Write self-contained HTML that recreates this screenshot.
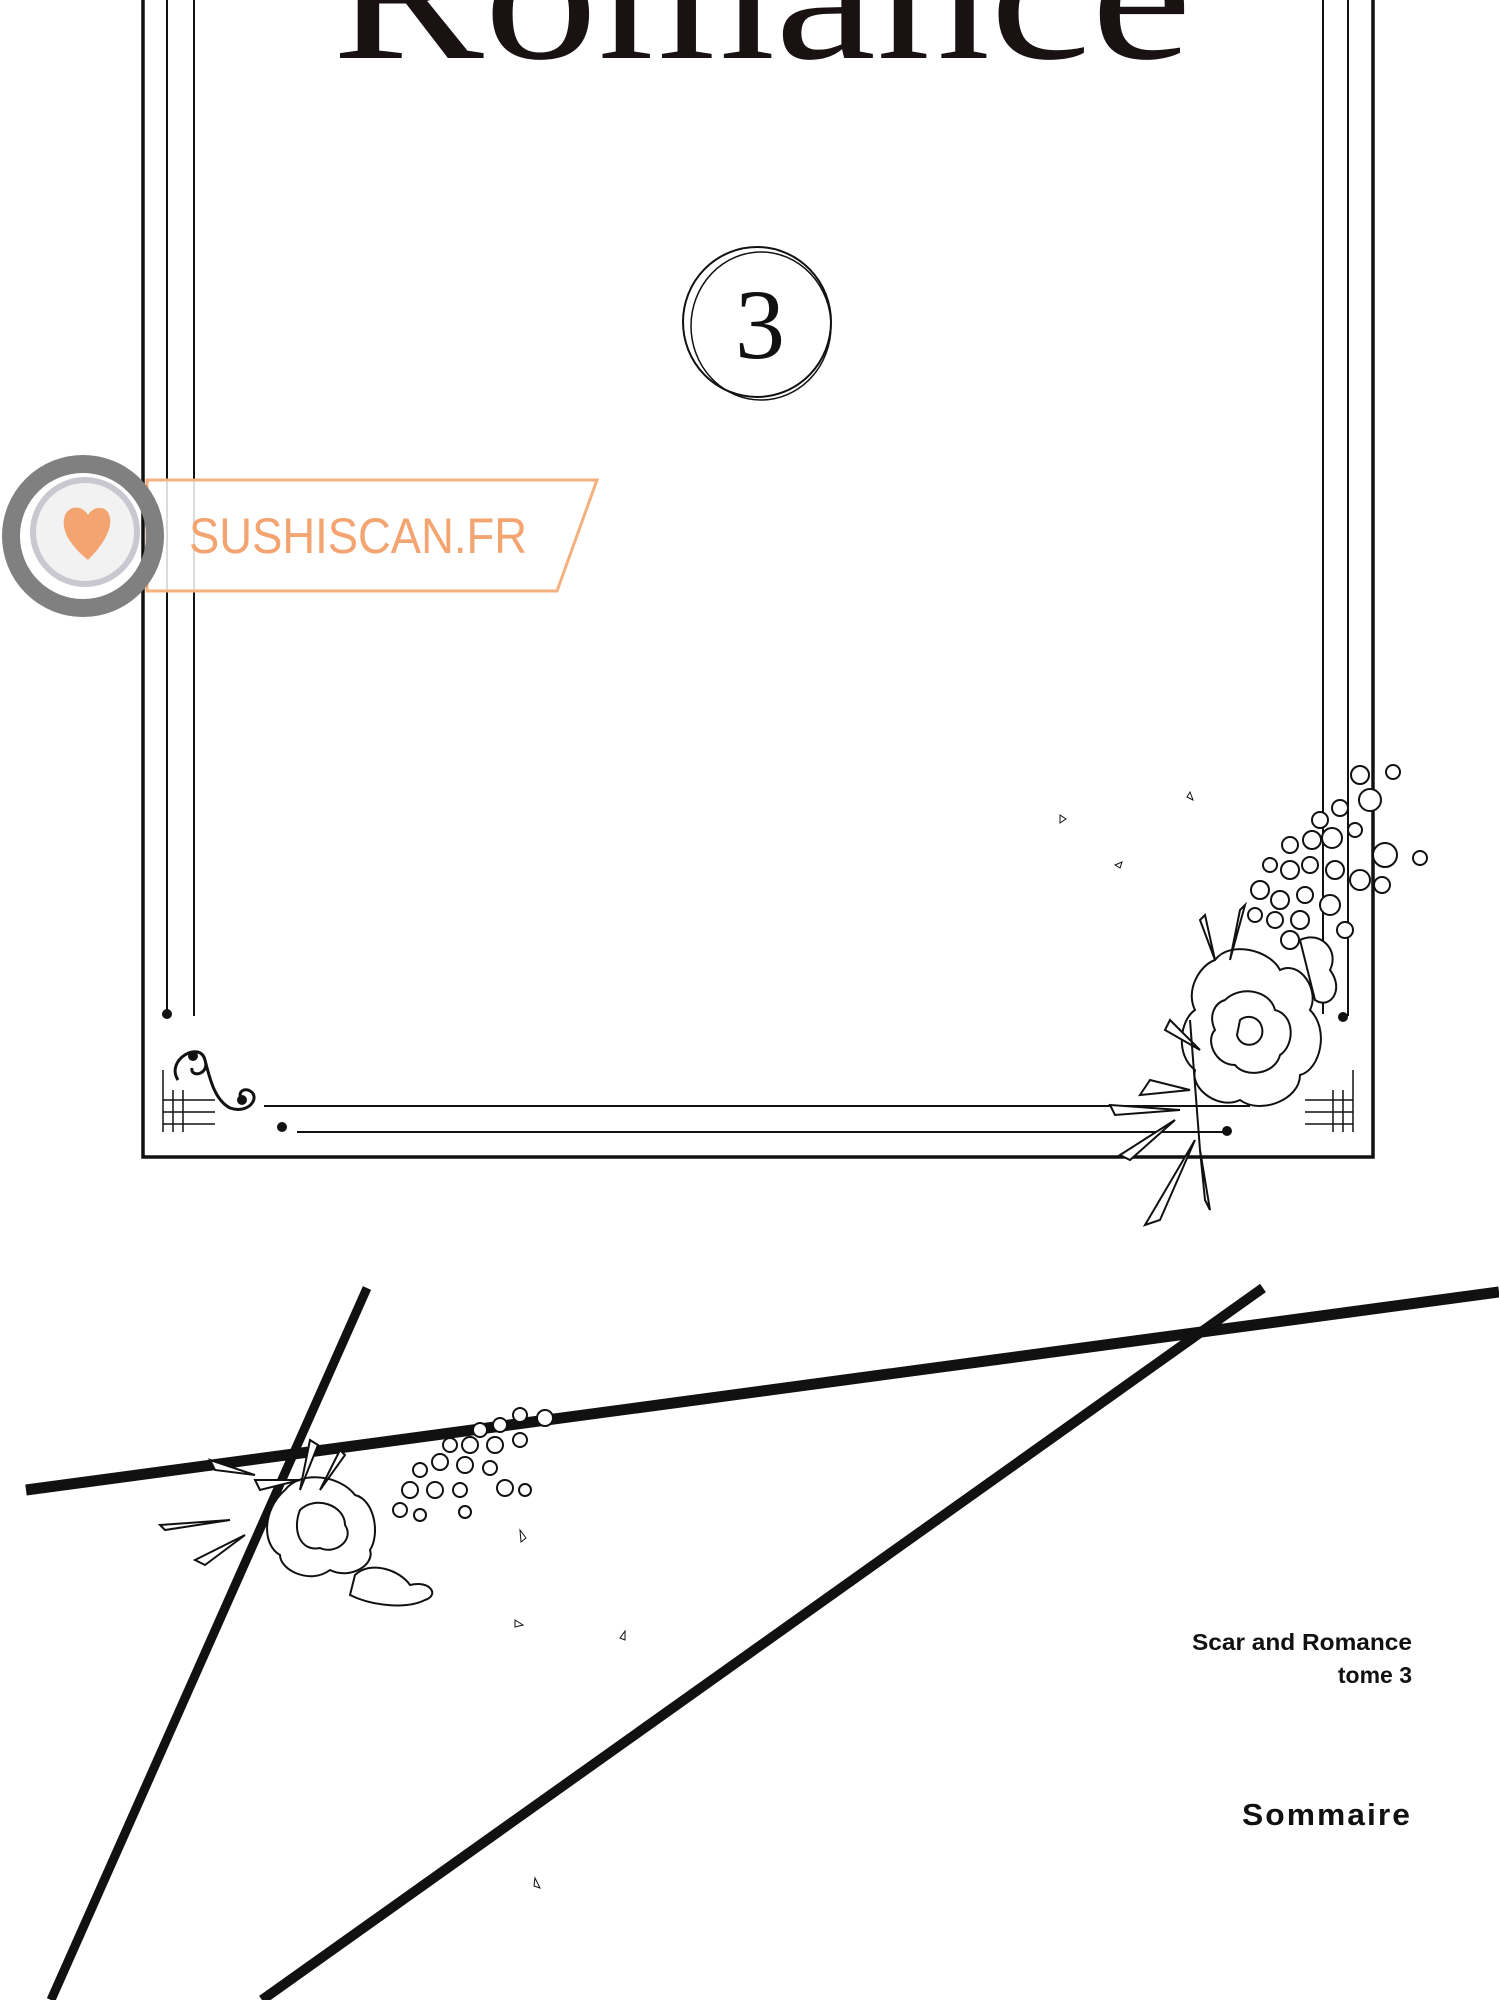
<!DOCTYPE html>
<html><head><meta charset="utf-8"><style>
html,body{margin:0;padding:0;background:#fff;}
body{width:1499px;height:2000px;position:relative;overflow:hidden;}
svg{position:absolute;left:0;top:0;}
</style></head><body>
<svg width="1499" height="2000" viewBox="0 0 1499 2000" xmlns="http://www.w3.org/2000/svg">
<!-- title -->
<text x="762" y="58" font-family="Liberation Serif, serif" font-size="190" fill="#1a1212" text-anchor="middle" textLength="860" lengthAdjust="spacingAndGlyphs">Romance</text>
<!-- frame -->
<g fill="none" stroke="#111">
<path d="M143 0 V1157 H1373 V0" stroke-width="3.5"/>
<line x1="167" y1="0" x2="167" y2="1014" stroke-width="2"/>
<line x1="194" y1="0" x2="194" y2="1016" stroke-width="2"/>
<line x1="1323" y1="0" x2="1323" y2="1014" stroke-width="2"/>
<line x1="1348" y1="0" x2="1348" y2="1016" stroke-width="2"/>
<line x1="264" y1="1106" x2="1250" y2="1106" stroke-width="2"/>
<line x1="297" y1="1132" x2="1225" y2="1132" stroke-width="2"/>
<path d="M163 1070 V1132 M173 1090 V1132 M183 1090 V1132 M163 1100 H215 M163 1112 H215 M163 1124 H215" stroke-width="1.5"/>
<path d="M1353 1070 V1132 M1343 1090 V1132 M1333 1090 V1132 M1305 1100 H1353 M1305 1112 H1353 M1305 1124 H1353" stroke-width="1.5"/>
<path d="M178 1080 C165 1060 200 1040 205 1060 C210 1075 190 1078 192 1068 M205 1060 C210 1080 215 1100 230 1108 C250 1115 262 1095 248 1090 C238 1088 238 1100 245 1100" stroke-width="3"/>
</g>
<g fill="#111"><circle cx="167" cy="1014" r="5"/><circle cx="282" cy="1127" r="5"/><circle cx="1343" cy="1017" r="5"/><circle cx="1227" cy="1131" r="5"/><circle cx="193" cy="1056" r="5"/><circle cx="242" cy="1100" r="5"/><circle cx="1270" cy="1100" r="5"/></g>
<!-- circle 3 -->
<ellipse cx="757" cy="322" rx="74" ry="75" fill="none" stroke="#111" stroke-width="2"/>
<ellipse cx="761" cy="326" rx="70" ry="74" fill="none" stroke="#111" stroke-width="1.5"/>
<text x="760" y="358" font-family="Liberation Serif, serif" font-size="100" fill="#111" text-anchor="middle">3</text>
<!-- watermark -->
<polygon points="147,480 597,480 557,591 147,591" fill="#fff" fill-opacity="0.85" stroke="#f4b07e" stroke-width="3"/>
<circle cx="83" cy="536" r="72" fill="none" stroke="#808080" stroke-width="18"/>
<circle cx="85" cy="532" r="52" fill="#f2f2f2" stroke="#c8c8d0" stroke-width="6"/>
<path d="M88 560 C70 545 60 530 65 515 C70 505 82 505 88 515 C94 505 108 505 110 518 C112 532 100 548 88 560Z" fill="#f4a470"/>
<text x="189" y="553" font-family="Liberation Sans, sans-serif" font-size="50" fill="#f4a470" textLength="338" lengthAdjust="spacingAndGlyphs">SUSHISCAN.FR</text>
<!-- flowers top frame -->
<g fill="#fff" stroke="#111" stroke-width="2">
<circle cx="1360" cy="775" r="9"/><circle cx="1393" cy="772" r="7"/><circle cx="1370" cy="800" r="11"/><circle cx="1340" cy="808" r="8"/><circle cx="1320" cy="820" r="8"/><circle cx="1312" cy="840" r="9"/><circle cx="1332" cy="838" r="10"/><circle cx="1355" cy="830" r="7"/><circle cx="1290" cy="845" r="8"/><circle cx="1290" cy="870" r="9"/><circle cx="1310" cy="865" r="8"/><circle cx="1335" cy="870" r="9"/><circle cx="1385" cy="855" r="12"/><circle cx="1420" cy="858" r="7"/><circle cx="1360" cy="880" r="10"/><circle cx="1382" cy="885" r="8"/><circle cx="1270" cy="865" r="7"/><circle cx="1260" cy="890" r="9"/><circle cx="1280" cy="900" r="9"/><circle cx="1305" cy="895" r="8"/><circle cx="1330" cy="905" r="10"/><circle cx="1300" cy="920" r="9"/><circle cx="1275" cy="920" r="8"/><circle cx="1255" cy="915" r="7"/><circle cx="1345" cy="930" r="8"/><circle cx="1290" cy="940" r="9"/>
<path d="M1215 960 C1230 940 1270 950 1280 970 C1300 960 1320 990 1310 1010 C1330 1030 1320 1070 1300 1075 C1300 1100 1260 1115 1240 1100 C1220 1110 1190 1090 1195 1070 C1175 1055 1180 1020 1195 1010 C1185 990 1200 965 1215 960Z"/>
<path d="M1225 1000 C1240 985 1270 990 1275 1010 C1295 1015 1295 1045 1280 1055 C1275 1075 1245 1078 1235 1065 C1215 1065 1205 1040 1215 1030 C1208 1015 1215 1003 1225 1000Z"/>
<path d="M1240 1020 C1250 1012 1265 1020 1262 1035 C1258 1048 1240 1048 1237 1035Z"/>
<path d="M1300 940 C1320 930 1340 950 1330 970 C1345 990 1330 1010 1315 1000 Z"/>
<path d="M1200 920 L1215 960 L1205 915Z M1240 910 L1230 960 L1245 905Z M1170 1020 L1200 1050 L1165 1030Z M1150 1080 L1190 1090 L1140 1095Z M1110 1105 L1180 1110 L1115 1115Z M1120 1155 L1175 1120 L1130 1160Z M1145 1225 L1195 1140 L1160 1220Z M1205 1200 L1200 1150 L1210 1210Z"/>
<path d="M1190 1020 L1200 1150" fill="none"/>
<path d="M1060 815 l6 4 -6 4z M1115 865 l7 -3 -2 6z M1190 792 l3 8 -6 -3z" stroke-width="1"/>
</g>
<!-- bottom lines -->
<g stroke="#111" stroke-linecap="butt" fill="none">
<line x1="26" y1="1490" x2="1499" y2="1292" stroke-width="11"/>
<line x1="367" y1="1288" x2="51" y2="2000" stroke-width="9"/>
<line x1="1263" y1="1288" x2="262" y2="2000" stroke-width="10"/>
</g>
<!-- bottom flowers -->
<g fill="#fff" stroke="#111" stroke-width="2">
<circle cx="520" cy="1415" r="7"/><circle cx="545" cy="1418" r="8"/><circle cx="500" cy="1425" r="7"/><circle cx="480" cy="1430" r="7"/><circle cx="470" cy="1445" r="8"/><circle cx="495" cy="1445" r="8"/><circle cx="520" cy="1440" r="7"/><circle cx="450" cy="1445" r="7"/><circle cx="440" cy="1462" r="8"/><circle cx="465" cy="1465" r="8"/><circle cx="490" cy="1468" r="7"/><circle cx="420" cy="1470" r="7"/><circle cx="410" cy="1490" r="8"/><circle cx="435" cy="1490" r="8"/><circle cx="460" cy="1490" r="7"/><circle cx="505" cy="1488" r="8"/><circle cx="525" cy="1490" r="6"/><circle cx="400" cy="1510" r="7"/><circle cx="420" cy="1515" r="6"/><circle cx="465" cy="1512" r="6"/>
<path d="M285 1490 C300 1470 340 1475 355 1495 C375 1500 380 1535 370 1550 C375 1565 350 1580 330 1570 C310 1585 280 1570 280 1555 C262 1545 262 1510 285 1490Z"/>
<path d="M300 1510 C315 1495 345 1505 345 1525 C355 1540 335 1555 320 1548 C300 1552 292 1530 300 1510Z"/>
<path d="M355 1575 C370 1560 400 1570 410 1585 C430 1580 440 1595 425 1600 C405 1610 370 1605 350 1595Z"/>
<path d="M210 1460 L255 1475 L215 1470Z M160 1525 L230 1520 L165 1530Z M195 1560 L245 1535 L205 1565Z M310 1440 L300 1490 L318 1445Z M340 1450 L320 1490 L345 1455Z M255 1480 L300 1480 L260 1490Z"/>
<path d="M520 1530 l6 8 -5 4z M515 1620 l8 5 -8 2z M620 1638 l5 -7 0 9z M535 1878 l5 10 -6 -2z" stroke-width="1"/>
</g>
<!-- text -->
<g font-family="Liberation Sans, sans-serif" fill="#111" text-anchor="end">
<text x="1412" y="1650" font-size="23" font-weight="bold" textLength="220" lengthAdjust="spacingAndGlyphs">Scar and Romance</text>
<text x="1412" y="1683" font-size="23" font-weight="bold">tome 3</text>
<text x="1412" y="1825" font-size="31" font-weight="bold" letter-spacing="2" textLength="170" lengthAdjust="spacingAndGlyphs">Sommaire</text>
</g>
</svg>
</body></html>
